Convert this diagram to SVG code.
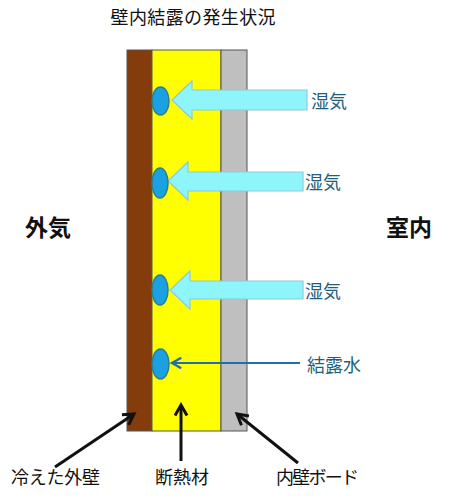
<svg xmlns="http://www.w3.org/2000/svg" width="472" height="503" viewBox="0 0 472 503">
<style>
text{font-family:"Noto Sans CJK JP","Noto Sans CJK SC",sans-serif;}
.lbl{font-size:18px;fill:#111;}
.vap{font-size:18px;fill:#1f5f7c;}
.side{font-size:23px;font-weight:bold;fill:#111;}
.block{fill:#8ef6fb;stroke:#8fc8dc;stroke-width:1.2;}
.drop{fill:#1ba1e2;stroke:#2a7f8e;stroke-width:1.5;}
.blk{stroke:#111;stroke-width:3;fill:none;}
</style>
<defs>
<marker id="ah" viewBox="0 0 10 10" refX="8" refY="5" markerWidth="5" markerHeight="5" orient="auto" markerUnits="strokeWidth">
<path d="M1,1 L8,5 L1,9" fill="none" stroke="#111" stroke-width="2"/>
</marker>
<marker id="ahb" viewBox="0 0 10 10" refX="8" refY="5" markerWidth="6" markerHeight="6" orient="auto" markerUnits="strokeWidth">
<path d="M1,1 L8,5 L1,9" fill="none" stroke="#1f6fb0" stroke-width="1.8"/>
</marker>
</defs>
<rect width="472" height="503" fill="#fff"/>
<text class="lbl" x="193" y="24" text-anchor="middle" font-size="17" textLength="165">壁内結露の発生状況</text>

<g id="wall">
<rect x="127" y="50" width="25" height="381" fill="#843c0c" stroke="#555" stroke-width="1"/>
<rect x="152" y="50" width="69" height="381" fill="#ffff00" stroke="#555" stroke-width="1"/>
<rect x="221" y="50" width="26" height="381" fill="#bfbfbf" stroke="#555" stroke-width="1"/>
</g>

<g id="vapor1">
<path class="block" d="M307,90 L192,90 L192,81 L172,100 L192,119 L192,110 L307,110 Z"/>
<ellipse class="drop" cx="160.5" cy="101" rx="8.5" ry="14"/>
<text class="vap" x="311" y="108">湿気</text>
</g>
<g id="vapor2">
<path class="block" d="M303,172 L188,172 L188,162 L168,181 L188,200 L188,191 L303,191 Z"/>
<ellipse class="drop" cx="160" cy="183" rx="8" ry="15"/>
<text class="vap" x="305" y="189">湿気</text>
</g>
<g id="vapor3">
<path class="block" d="M303,281 L190,281 L190,271 L170,290 L190,309 L190,299 L303,299 Z"/>
<ellipse class="drop" cx="160" cy="290" rx="8" ry="15"/>
<text class="vap" x="305" y="298">湿気</text>
</g>
<g id="water">
<ellipse class="drop" cx="160.5" cy="364" rx="8.5" ry="15"/>
<text class="vap" x="307" y="372">結露水</text>
</g>

<text class="side" x="48" y="236" text-anchor="middle">外気</text>
<text class="side" x="409" y="236" text-anchor="middle">室内</text>

<g id="connectors">
<line x1="300" y1="363" x2="172" y2="363" stroke="#1f6fb0" stroke-width="2.2" marker-end="url(#ahb)"/>
<line class="blk" x1="55" y1="467" x2="134" y2="414" marker-end="url(#ah)"/>
<line class="blk" x1="181" y1="461" x2="181" y2="405" marker-end="url(#ah)"/>
<line class="blk" x1="298" y1="463" x2="237" y2="414" marker-end="url(#ah)"/>
</g>

<g id="labels">
<text class="lbl" x="11" y="484" textLength="89">冷えた外壁</text>
<text class="lbl" x="155" y="484" textLength="54">断熱材</text>
<text class="lbl" x="276" y="484" textLength="83">内壁ボード</text>
</g>
</svg>
